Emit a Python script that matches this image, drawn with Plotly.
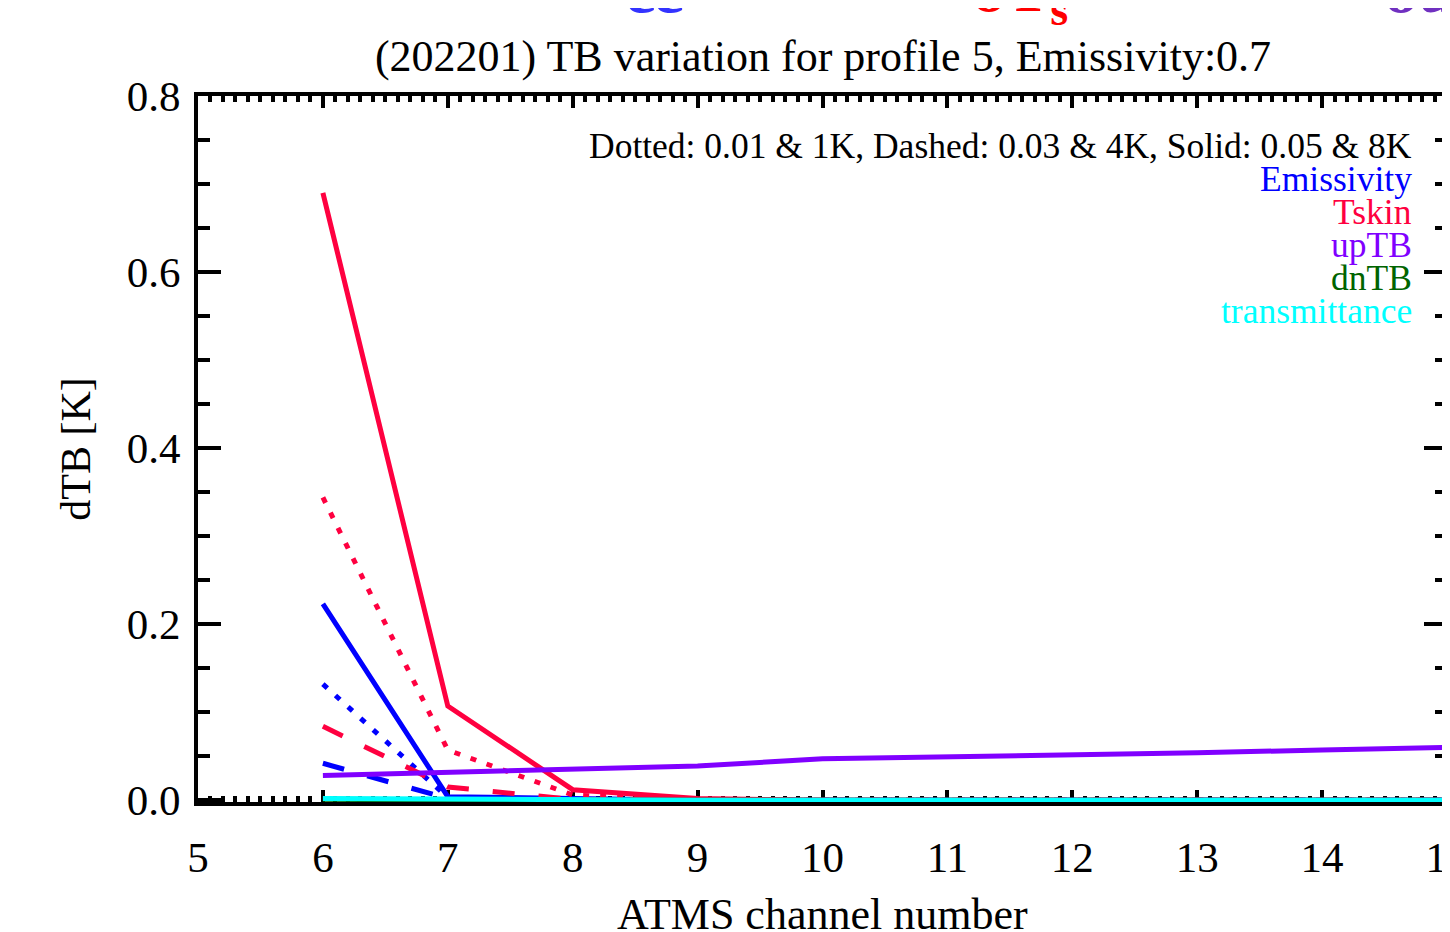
import plotly.graph_objects as go

# ---------------- data ----------------
channels = [6, 7, 8, 9, 10, 11, 12, 13, 14, 15]

emis_dot   = [0.132, 0.003, 0.000, 0.000, 0.000, 0.000, 0.000, 0.000, 0.000, 0.000]
emis_dash  = [0.042, 0.002, 0.000, 0.000, 0.000, 0.000, 0.000, 0.000, 0.000, 0.000]
emis_solid = [0.223, 0.004, 0.002, 0.000, 0.000, 0.000, 0.000, 0.000, 0.000, 0.000]

tskin_dot   = [0.344, 0.057, 0.006, 0.000, 0.000, 0.000, 0.000, 0.000, 0.000, 0.000]
tskin_dash  = [0.084, 0.015, 0.001, 0.000, 0.000, 0.000, 0.000, 0.000, 0.000, 0.000]
tskin_solid = [0.690, 0.107, 0.012, 0.002, 0.000, 0.000, 0.000, 0.000, 0.000, 0.000]

uptb_solid = [0.028, 0.032, 0.035, 0.039, 0.047, 0.049, 0.052, 0.054, 0.057, 0.060]
dntb_solid = [0.001, 0.000, 0.000, 0.000, 0.000, 0.000, 0.000, 0.000, 0.000, 0.000]
trans_solid = [0.002, 0.001, 0.000, 0.000, 0.000, 0.000, 0.000, 0.000, 0.000, 0.000]

x_ticks = [5, 6, 7, 8, 9, 10, 11, 12, 13, 14, 15]
y_ticks = [0.0, 0.2, 0.4, 0.6, 0.8]
y_ticklabels = ["0.0", "0.2", "0.4", "0.6", "0.8"]

legend_lines = ["Dotted: 0.01 & 1K, Dashed: 0.03 & 4K, Solid: 0.05 & 8K",
                "Emissivity", "Tskin", "upTB", "dnTB", "transmittance"]

# ---------------- styles ----------------
C_EMIS = "#0000ff"
C_TSKIN = "#ff0040"
C_UP = "#8000ff"
C_DN = "#006400"
C_TR = "#00ffff"
LEGEND_COLORS = ["#000000", C_EMIS, C_TSKIN, C_UP, C_DN, C_TR]
DOT = "6px,11px"
DASH = "22px,24px"
LW = 5
FONT = "Liberation Serif"

fig = go.Figure()

def add(y, color, dash):
    fig.add_trace(go.Scatter(x=channels, y=y, mode="lines",
                             line=dict(color=color, width=LW, dash=dash),
                             showlegend=False, hoverinfo="skip"))

add(emis_dot, C_EMIS, DOT)
add(emis_dash, C_EMIS, DASH)
add(emis_solid, C_EMIS, "solid")
add(tskin_dot, C_TSKIN, DOT)
add(tskin_dash, C_TSKIN, DASH)
add(tskin_solid, C_TSKIN, "solid")
add(uptb_solid, C_UP, "solid")
add(dntb_solid, C_DN, "solid")
add(trans_solid, C_TR, "solid")

# legend text (right aligned, inside plot)
leg_y = [0.9292, 0.8824, 0.8357, 0.7890, 0.7422, 0.6955]
annotations = []
for txt, col, yy in zip(legend_lines, LEGEND_COLORS, leg_y):
    annotations.append(dict(text=txt, xref="paper", yref="paper", x=0.9736, y=yy,
                            xanchor="right", yanchor="middle", showarrow=False,
                            font=dict(family=FONT, size=35.5, color=col)))

# partially visible header text at the very top of the page
for txt, col, xx, yy in [("εε", "#3333ff", 0.366, 1.097),
                         ("δT<sub>s</sub>", "#ff0000", 0.658, 1.083),
                         ("δu", "#7030c0", 0.978, 1.097)]:
    annotations.append(dict(text=txt, xref="paper", yref="paper", x=xx, y=yy,
                            xanchor="center", yanchor="bottom", showarrow=False,
                            font=dict(family=FONT, size=66, color=col, weight="bold")))

# x-axis title (placed like the reference, partly running off the bottom edge)
annotations.append(dict(text="ATMS channel number", xref="paper", yref="paper",
                        x=0.5, y=-0.160, xanchor="center", yanchor="middle",
                        showarrow=False, font=dict(family=FONT, size=44, color="black")))

axis_common = dict(showline=True, linewidth=4, linecolor="black", mirror="ticks",
                   ticks="inside", tickcolor="black", tickwidth=4,
                   showgrid=False, zeroline=False, layer="below traces",
                   ticklabeloverflow="allow",
                   tickfont=dict(family=FONT, size=43, color="black"))

# the page body adds an 8px offset; the figure is sized so the plot area lands
# at x 198..1447 and y 96..802 in the 1450x932 window
fig.update_layout(
    width=1442, height=924,
    margin=dict(l=190, r=3, t=88, b=130, autoexpand=False),
    paper_bgcolor="white", plot_bgcolor="white",
    title=dict(text="(202201) TB variation for profile 5, Emissivity:0.7",
               x=0.5652, xanchor="center", y=0.948, yanchor="middle",
               font=dict(family=FONT, size=44, color="black")),
    xaxis=dict(range=[5, 15], tickvals=x_ticks, ticklen=12,
               minor=dict(dtick=0.1, tick0=5, ticklen=6, tickwidth=4, ticks="inside",
                          tickcolor="black", showgrid=False),
               ticklabelstandoff=14,
               automargin=False, **axis_common),
    yaxis=dict(range=[-0.002, 0.8], tickvals=y_ticks, ticktext=y_ticklabels, ticklen=23,
               minor=dict(dtick=0.05, tick0=0, ticklen=12, tickwidth=4, ticks="inside",
                          tickcolor="black", showgrid=False),
               ticklabelstandoff=5,
               title=dict(text="dTB [K]", standoff=24,
                          font=dict(family=FONT, size=42, color="black")),
               automargin=False, **axis_common),
    annotations=annotations,
)

fig.write_html("out.html")
